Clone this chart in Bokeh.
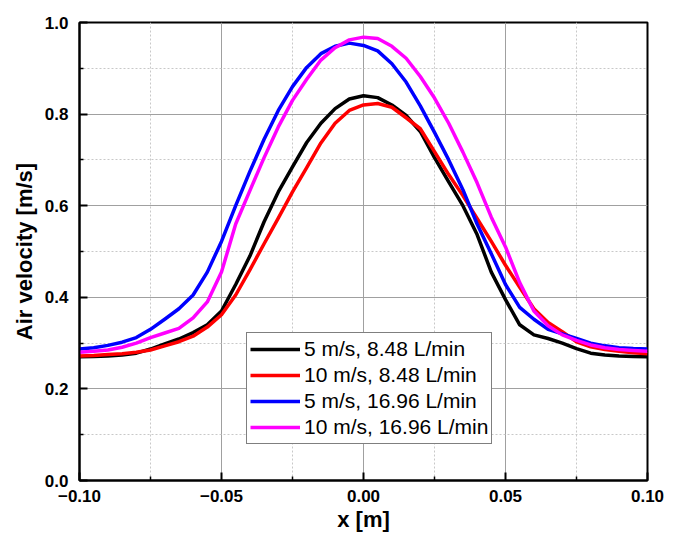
from bokeh.plotting import figure
from bokeh.models import FixedTicker, CustomJSTickFormatter, Range1d, Legend, LegendItem
from bokeh.embed import file_html
from bokeh.resources import INLINE

x = [-0.100, -0.095, -0.090, -0.085, -0.080, -0.075, -0.070, -0.065, -0.060, -0.055,
     -0.050, -0.045, -0.040, -0.035, -0.030, -0.025, -0.020, -0.015, -0.010, -0.005,
     0.000, 0.005, 0.010, 0.015, 0.020, 0.025, 0.030, 0.035, 0.040, 0.045,
     0.050, 0.055, 0.060, 0.065, 0.070, 0.075, 0.080, 0.085, 0.090, 0.095, 0.100]

v_5_848 = [0.270, 0.271, 0.272, 0.274, 0.278, 0.287, 0.298, 0.309, 0.323, 0.340,
           0.370, 0.428, 0.490, 0.565, 0.630, 0.685, 0.738, 0.780, 0.812, 0.833,
           0.840, 0.836, 0.820, 0.797, 0.762, 0.705, 0.652, 0.600, 0.537, 0.455,
           0.395, 0.340, 0.318, 0.310, 0.300, 0.288, 0.278, 0.274, 0.272, 0.271, 0.270]

v_10_848 = [0.272, 0.273, 0.275, 0.277, 0.280, 0.285, 0.294, 0.303, 0.315, 0.335,
            0.362, 0.405, 0.460, 0.517, 0.573, 0.630, 0.683, 0.737, 0.780, 0.808,
            0.820, 0.823, 0.815, 0.792, 0.768, 0.718, 0.668, 0.622, 0.572, 0.522,
            0.470, 0.422, 0.375, 0.345, 0.325, 0.303, 0.292, 0.286, 0.282, 0.279, 0.277]

v_5_1696 = [0.287, 0.290, 0.295, 0.302, 0.312, 0.330, 0.352, 0.375, 0.405, 0.455,
            0.522, 0.600, 0.675, 0.745, 0.808, 0.860, 0.902, 0.932, 0.948, 0.955,
            0.950, 0.938, 0.910, 0.870, 0.818, 0.760, 0.700, 0.635, 0.560, 0.495,
            0.428, 0.378, 0.352, 0.330, 0.320, 0.310, 0.300, 0.294, 0.290, 0.288, 0.287]

v_10_1696 = [0.280, 0.282, 0.285, 0.291, 0.300, 0.312, 0.322, 0.332, 0.355, 0.390,
             0.455, 0.560, 0.633, 0.705, 0.772, 0.830, 0.876, 0.918, 0.945, 0.962,
             0.968, 0.965, 0.948, 0.922, 0.882, 0.835, 0.780, 0.717, 0.650, 0.575,
             0.510, 0.432, 0.370, 0.338, 0.318, 0.306, 0.296, 0.290, 0.286, 0.284, 0.282]

labels = ["5 m/s, 8.48 L/min", "10 m/s, 8.48 L/min", "5 m/s, 16.96 L/min", "10 m/s, 16.96 L/min"]
colors = ["#000000", "#ff0000", "#0000ff", "#ff00ff"]
series = [v_5_848, v_10_848, v_5_1696, v_10_1696]

x_ticks = [-0.10, -0.05, 0.0, 0.05, 0.10]
x_minor = [-0.075, -0.025, 0.025, 0.075]
y_ticks = [0.0, 0.2, 0.4, 0.6, 0.8, 1.0]
y_minor = [0.1, 0.3, 0.5, 0.7, 0.9]

FONT = "Liberation Sans"

p = figure(width=673, height=536, output_backend="svg", toolbar_location=None,
           x_range=Range1d(-0.1, 0.1), y_range=Range1d(0.0, 1.0),
           min_border_left=79, min_border_right=26, min_border_top=22, min_border_bottom=56)

renderers = []
for vals, c in zip(series, colors):
    r = p.line(x, vals, line_color=c, line_width=3.5, line_join="round")
    renderers.append(r)

p.xaxis.ticker = FixedTicker(ticks=x_ticks, minor_ticks=x_minor)
p.yaxis.ticker = FixedTicker(ticks=y_ticks, minor_ticks=y_minor)
p.xaxis.formatter = CustomJSTickFormatter(code="return (tick < -1e-9 ? '\u2212' : '') + Math.abs(tick).toFixed(2);")
p.yaxis.formatter = CustomJSTickFormatter(code="return Math.abs(tick).toFixed(1);")

for ax in (p.xaxis[0], p.yaxis[0]):
    ax.axis_line_width = 2
    ax.axis_line_color = "black"
    ax.major_tick_in = 8
    ax.major_tick_out = 0
    ax.minor_tick_in = 4
    ax.minor_tick_out = 0
    ax.major_tick_line_width = 2
    ax.minor_tick_line_width = 1.5
    ax.major_label_text_font = FONT
    ax.major_label_text_font_style = "bold"
    ax.major_label_text_font_size = "17px"
    ax.major_label_text_color = "black"
    ax.axis_label_text_font = FONT
    ax.axis_label_text_font_style = "bold"
    ax.axis_label_text_font_size = "22px"
    ax.axis_label_text_color = "black"

p.xaxis.axis_label = "x [m]"
p.yaxis.axis_label = "Air velocity [m/s]"
p.xaxis.major_label_standoff = 9
p.yaxis.major_label_standoff = 11
p.xaxis.axis_label_standoff = 2
p.yaxis.axis_label_standoff = 5

for g in (p.xgrid[0], p.ygrid[0]):
    g.grid_line_color = "#a0a0a0"
    g.grid_line_width = 1
    g.minor_grid_line_color = "#c8c8c8"
    g.minor_grid_line_width = 1
    g.minor_grid_line_dash = "2 2"

p.outline_line_color = "black"
p.outline_line_width = 2
p.outline_line_alpha = 1

legend = Legend(items=[LegendItem(label=l, renderers=[r]) for l, r in zip(labels, renderers)],
                location=(167, 36))
legend.label_text_font = FONT
legend.label_text_font_size = "21px"
legend.label_text_color = "black"
legend.glyph_width = 50
legend.glyph_height = 26
legend.label_height = 26
legend.label_standoff = 4
legend.spacing = 0
legend.padding = 3
legend.margin = 0
legend.border_line_color = "black"
legend.border_line_width = 1
legend.background_fill_alpha = 1
p.add_layout(legend, "center")

open("out.html", "w").write(file_html(p, INLINE))
